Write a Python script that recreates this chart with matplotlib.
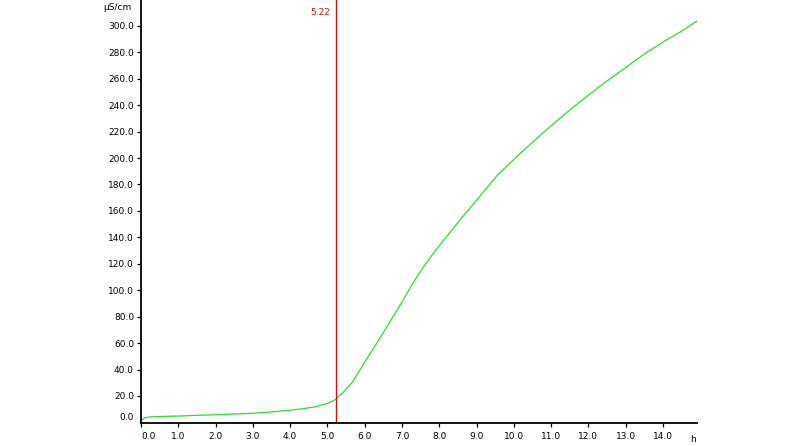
import matplotlib
matplotlib.use('Agg')
import matplotlib.pyplot as plt
import matplotlib.transforms as mtransforms
import numpy as np

# conductivity curve
time_h = [0.0, 0.05, 0.11, 0.24, 0.5, 1.0, 1.5, 2.0, 2.5, 3.0, 3.5, 4.0, 4.3, 4.66, 5.02, 5.2,
          5.46, 5.68, 6.0, 6.22, 6.5, 6.76, 7.02, 7.29, 7.55, 7.83, 8.01, 8.55, 9.08, 9.57,
          10.15, 10.69, 11.14, 11.57, 12.29, 13.0, 13.54, 14.07, 14.5, 14.9]
conductivity = [1.0, 2.5, 3.6, 4.1, 4.4, 4.8, 5.3, 5.8, 6.3, 6.9, 7.9, 9.2, 10.2, 11.7, 14.5, 17.0,
                23.8, 30.8, 45.5, 55.3, 68.0, 80.0, 92.0, 105.3, 116.5, 127.5, 134.0, 153.0, 170.8,
                187.5, 203.0, 216.8, 227.8, 238.0, 254.0, 268.5, 279.5, 289.0, 296.0, 303.5]
marker_h = 5.22
x_ticks = np.arange(0, 15, 1.0)
y_ticks = np.arange(0, 301, 20.0)

plt.rcParams['font.family'] = ['DejaVu Sans']

fig = plt.figure(figsize=(8, 4.46), dpi=100)
ax = fig.add_axes([141 / 800, 22.7 / 446, 556.3 / 800, 423.3 / 446])

ax.plot(time_h, conductivity, color='#2edb2e', linewidth=0.9)
ax.axvline(marker_h, color='#cc1111', linewidth=1.0)
ax.annotate(f'{marker_h:.2f}', (marker_h, 1), xycoords=('data', 'axes fraction'),
            xytext=(-4, -5.5), textcoords='offset points', ha='right', va='top',
            color='#cc1111', fontsize=6.5)

ax.set_xlim(0, 14.92)
ax.set_ylim(-0.7, 319.6)
ax.set_xticks(x_ticks)
ax.set_yticks(y_ticks)
ax.set_xticklabels([f'{v:.1f}' for v in x_ticks])
ax.set_yticklabels([f'{v:.1f}' for v in y_ticks])

for s in ['top', 'right']:
    ax.spines[s].set_visible(False)
for s in ['left', 'bottom']:
    ax.spines[s].set_linewidth(1.3)
    ax.spines[s].set_color('black')
ax.tick_params(axis='both', length=3, width=0.9, labelsize=6.5, color='black')
ax.tick_params(axis='y', pad=2)
ax.tick_params(axis='x', pad=3)

# the 0.0 labels are nudged off the corner
yt0 = ax.yaxis.get_major_ticks()[0]
yt0.tick1line.set_visible(False)
yt0.label1.set_transform(yt0.label1.get_transform() +
                         mtransforms.ScaledTranslation(0, 4 / 72, fig.dpi_scale_trans))
xt0 = ax.xaxis.get_major_ticks()[0]
xt0.label1.set_horizontalalignment('left')

fig.text(103 / 800, 1 - 7.5 / 446, 'µS/cm', fontsize=6.5, ha='left', va='center')
fig.text(693 / 800, 1 - 440 / 446, 'h', fontsize=6.5, ha='center', va='center')

fig.savefig('out.png', dpi=100)
